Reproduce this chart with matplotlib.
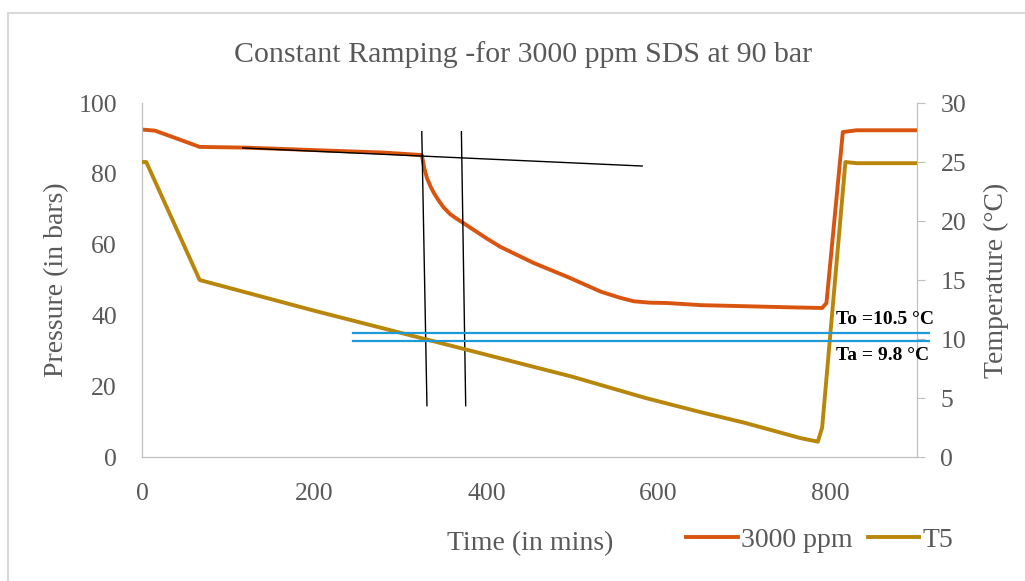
import numpy as np
import matplotlib.pyplot as plt
from matplotlib.patches import Rectangle

plt.rcParams['font.family'] = ['Liberation Serif', 'DejaVu Serif']

# pressure record (bar) for the 3000 ppm run
time_p = [0, 15, 40, 67, 120, 200, 280, 325, 328, 331, 335, 339, 345, 350, 358, 365, 372,
          385, 400, 416, 455, 494, 533, 555, 571, 590, 610, 649, 700, 750, 790, 795, 814,
          830, 900]
pressure = [92.5, 92.2, 90.0, 87.6, 87.4, 86.7, 86.0, 85.3, 81.5, 78.8, 76.5, 74.6, 72.3,
            70.6, 68.6, 67.4, 66.3, 64.2, 61.8, 59.4, 54.8, 50.9, 46.7, 45.0, 44.0, 43.6,
            43.5, 42.9, 42.6, 42.3, 42.1, 43.5, 91.8, 92.3, 92.3]

# bath temperature T5 (deg C)
time_t = [0, 5, 67, 200, 350, 500, 585, 649, 700, 765, 785, 790, 817, 830, 900]
temp_t5 = [25.0, 25.0, 15.0, 12.4, 9.6, 6.8, 5.0, 3.8, 2.9, 1.6, 1.3, 2.5, 25.0, 24.9, 24.9]

# onset / arrest temperatures marked on the chart
t_onset = 10.5
t_arrest = 9.8

# construction lines (time, pressure)
tangent_t = [117, 581]
tangent_p = [87.3, 82.2]
vline1_t = [325, 331]
vline2_t = [371, 376]
vline_p = [91.9, 14.5]

orange = '#D9540F'
gold = '#B8860B'
grey = '#595959'
blue = '#1E9AD8'

fig = plt.figure(figsize=(10.25, 5.81), dpi=100)
ax = fig.add_axes([0.1385, 0.2134, 0.756, 0.6093])
ax2 = ax.twinx()

ax.plot(time_p, pressure, color=orange, lw=2.8, label='3000 ppm', zorder=3)
ax2.plot(time_t, temp_t5, color=gold, lw=2.8, label='T5', zorder=3)

ax.plot(tangent_t, tangent_p, color='black', lw=1.0, zorder=4)
ax.plot(vline1_t, vline_p, color='black', lw=1.0, zorder=4)
ax.plot(vline2_t, vline_p, color='black', lw=1.0, zorder=4)

for tv in (t_onset, t_arrest):
    ax2.plot([245, 914], [tv, tv], color=blue, lw=1.6, clip_on=False, zorder=5)
ax2.text(806, t_onset + 0.45, 'To =10.5 °C', fontsize=14, fontweight='bold',
         color='black', va='bottom', ha='left')
ax2.text(806, t_arrest - 0.45, 'Ta = 9.8 °C', fontsize=14, fontweight='bold',
         color='black', va='top', ha='left')

ax.set_xlim(0, 900)
ax.set_ylim(0, 100)
ax2.set_ylim(0, 30)
ax.set_xticks([0, 200, 400, 600, 800])
ax.set_yticks(range(0, 101, 20))
ax2.set_yticks(range(0, 31, 5))

for a in (ax, ax2):
    for s in a.spines.values():
        s.set_color('#BFBFBF')
    a.spines['top'].set_visible(False)
ax.tick_params(axis='both', length=0, labelsize=18.5, labelcolor=grey)
ax.tick_params(axis='y', pad=18)
ax.tick_params(axis='x', pad=19)
ax2.tick_params(axis='y', length=6, color='#BFBFBF', labelsize=18.5, labelcolor=grey, pad=11)

ax.set_xlabel('Time (in mins)', fontsize=20, color=grey)
ax.xaxis.set_label_coords(0.501, -0.208)
ax.set_ylabel('Pressure (in bars)', fontsize=20, color=grey)
ax.yaxis.set_label_coords(-0.094, 0.5)
ax2.set_ylabel('Temperature (°C)', fontsize=20, color=grey)
ax2.yaxis.set_label_coords(1.087, 0.5)

fig.suptitle('Constant Ramping -for 3000 ppm SDS at 90 bar', fontsize=21.5, color=grey,
             x=0.51, y=0.93)

h1, l1 = ax.get_legend_handles_labels()
h2, l2 = ax2.get_legend_handles_labels()
leg = fig.legend(h1 + h2, l1 + l2, loc='center left', bbox_to_anchor=(0.645, 0.07), ncol=2,
                 frameon=False, fontsize=20, handlelength=1.85, handletextpad=0.12,
                 columnspacing=0.55)
for t in leg.get_texts():
    t.set_color(grey)

# outer chart frame
fig.patches.append(Rectangle((8 / 1025, -0.1), 1.2, 1.1 - 13 / 581, transform=fig.transFigure,
                             fill=False, edgecolor='#D9D9D9', lw=1.5))

fig.savefig('out.png', dpi=100)
